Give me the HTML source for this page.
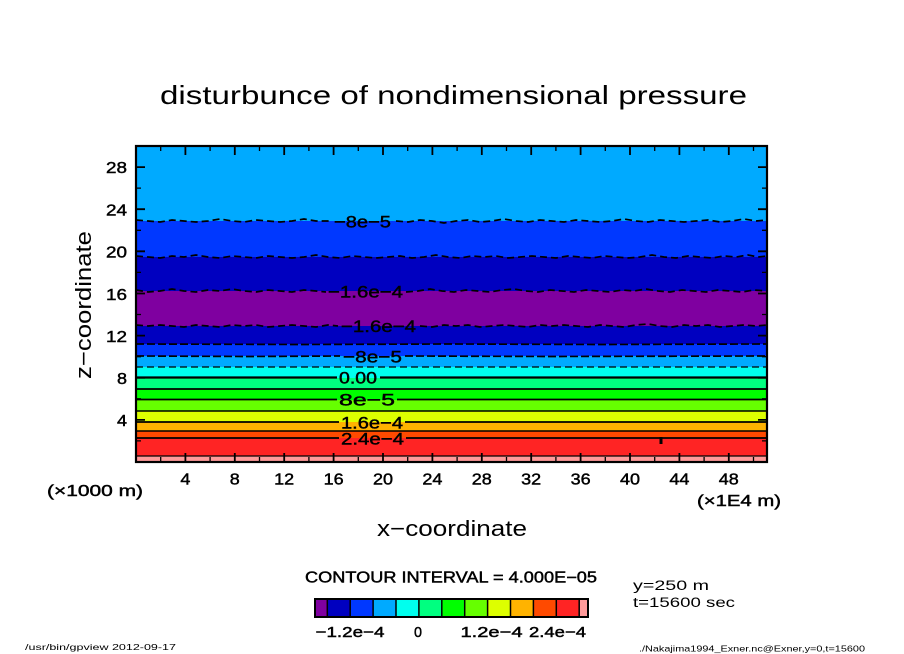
<!DOCTYPE html>
<html>
<head>
<meta charset="utf-8">
<style>
html,body{margin:0;padding:0;background:#fff;}
svg{display:block;}
text{font-family:"Liberation Sans",sans-serif;fill:#000;}
.b{stroke:#000;stroke-width:0.45;}
</style>
</head>
<body>
<svg width="904" height="654" viewBox="0 0 904 654" xmlns="http://www.w3.org/2000/svg">
<rect x="0" y="0" width="904" height="654" fill="#fff"/>

<!-- Title -->
<text x="160" y="104" font-size="26" textLength="587" lengthAdjust="spacingAndGlyphs">disturbunce of nondimensional pressure</text>

<!-- Bands -->
<g shape-rendering="crispEdges">
<rect x="136" y="146" width="631" height="75" fill="#00aaff"/>
<rect x="136" y="221" width="631" height="36" fill="#0038ff"/>
<rect x="136" y="257" width="631" height="34" fill="#0000c0"/>
<rect x="136" y="291" width="631" height="35" fill="#7f00a0"/>
<rect x="136" y="326" width="631" height="18" fill="#0000c0"/>
<rect x="136" y="344" width="631" height="12" fill="#0038ff"/>
<rect x="136" y="356" width="631" height="11" fill="#00aaff"/>
<rect x="136" y="367" width="631" height="11" fill="#00ffee"/>
<rect x="136" y="378" width="631" height="11.5" fill="#00ff80"/>
<rect x="136" y="389.5" width="631" height="10.5" fill="#00ff00"/>
<rect x="136" y="400" width="631" height="11" fill="#66ff00"/>
<rect x="136" y="411" width="631" height="11" fill="#ddff00"/>
<rect x="136" y="422" width="631" height="9" fill="#ffb300"/>
<rect x="136" y="431" width="631" height="7" fill="#ff4a00"/>
<rect x="136" y="438" width="631" height="18" fill="#ff2424"/>
<rect x="136" y="456" width="631" height="6" fill="#ff9a9a"/>
</g>

<!-- Contour lines -->
<g fill="none" stroke="#000" stroke-width="1.7" stroke-linejoin="round">
<path stroke-dasharray="7 4" d="M136,220 L148,221 L160,222 L172,220 L184,221 L196,222 L208,221 L220,219 L232,221 L244,222 L256,220 L268,221 L280,222 L292,221 L304,219 L316,221 L330,221
M396,221 L408,222 L420,220 L432,221 L444,223 L456,221 L468,220 L480,222 L492,221 L504,219 L516,221 L528,222 L540,220 L552,221 L564,222 L576,220 L588,221 L600,222 L612,221 L624,219 L636,221 L648,222 L660,220 L672,221 L684,222 L696,221 L708,220 L720,222 L732,221 L744,219 L756,221 L767,220"/>
<path stroke-dasharray="7 4" d="M136,256 L148,257 L160,258 L172,256 L184,257 L196,255 L208,257 L220,258 L232,256 L244,257 L256,258 L268,256 L280,257 L292,258 L304,257 L316,255 L328,257 L340,258 L352,256 L364,257 L376,258 L388,257 L400,256 L412,258 L424,257 L436,255 L448,257 L460,258 L472,256 L484,257 L496,256 L508,258 L520,257 L532,256 L544,257 L556,258 L568,256 L580,257 L592,258 L604,256 L616,257 L628,258 L640,257 L652,255 L664,257 L676,258 L688,256 L700,257 L712,258 L724,256 L736,257 L748,255 L758,257 L767,256"/>
<path stroke-dasharray="7 4" d="M136,290 L148,292 L160,291 L172,289 L184,291 L196,292 L208,290 L220,291 L232,289 L244,291 L256,292 L268,290 L280,291 L292,292 L304,290 L316,291 L326,292
M406,292 L418,291 L430,289 L442,291 L454,292 L466,290 L478,291 L490,292 L502,290 L514,289 L526,291 L538,292 L550,290 L562,291 L574,292 L586,290 L598,291 L610,292 L622,290 L634,291 L646,289 L658,291 L670,292 L682,290 L694,291 L706,292 L718,290 L730,291 L742,292 L754,290 L767,291"/>
<path stroke-dasharray="7 4" d="M136,325 L148,326 L160,325 L172,326 L184,327 L196,325 L208,326 L220,327 L232,325 L244,326 L256,325 L268,327 L280,326 L292,325 L304,326 L316,327 L328,325 L338,326
M420,326 L432,327 L444,325 L456,326 L468,325 L480,327 L492,326 L504,325 L516,326 L528,327 L540,325 L552,326 L564,325 L576,326 L588,327 L600,325 L612,326 L624,327 L636,325 L648,324 L660,326 L672,327 L684,325 L696,326 L708,325 L720,327 L732,326 L744,325 L756,326 L767,325"/>
<path stroke-dasharray="8 3" d="M136,344 L300,344.5 L450,344 L600,344.5 L767,344"/>
<path stroke-dasharray="8 3" d="M136,356 L250,356.5 L340,356 M405,356 L550,356.5 L767,356"/>
<path stroke-dasharray="7 4" stroke-width="1.3" d="M136,367 L767,367"/>
<path stroke-width="2.3" d="M136,377.5 L337,377.5 M380,377.5 L767,377.5"/>
<path d="M136,389 L767,389"/>
<path d="M136,399.5 L337,399.5 M397,399.5 L767,399.5"/>
<path stroke-width="1.4" d="M136,411 L767,411"/>
<path d="M136,422 L339,422 M405,422 L767,422"/>
<path stroke-width="1.4" d="M136,431 L767,431"/>
<path d="M136,438 L339,438 M406,438 L767,438"/>
<path stroke-width="1.2" d="M136,456 L767,456"/>
</g>
<rect x="659.5" y="437" width="3" height="7" fill="#000"/>

<!-- Contour labels -->
<g font-size="17" class="b">
<text x="334" y="227.5" textLength="57" lengthAdjust="spacingAndGlyphs">−8e−5</text>
<text x="328" y="297.5" textLength="75" lengthAdjust="spacingAndGlyphs">−1.6e−4</text>
<text x="341" y="332" textLength="75" lengthAdjust="spacingAndGlyphs">−1.6e−4</text>
<text x="343" y="362.5" textLength="59" lengthAdjust="spacingAndGlyphs">−8e−5</text>
<text x="339" y="383.5" textLength="38" lengthAdjust="spacingAndGlyphs">0.00</text>
<text x="339" y="405.5" textLength="56" lengthAdjust="spacingAndGlyphs">8e−5</text>
<text x="341" y="428.5" textLength="62" lengthAdjust="spacingAndGlyphs">1.6e−4</text>
<text x="341" y="444.5" textLength="63" lengthAdjust="spacingAndGlyphs">2.4e−4</text>
</g>

<!-- Axes frame -->
<rect x="136" y="146" width="631" height="316" fill="none" stroke="#000" stroke-width="2.2"/>

<!-- Ticks -->
<g stroke="#000" stroke-width="1.8" fill="none">
<path d="M185.4,462 v-9 M234.8,462 v-9 M284.2,462 v-9 M333.6,462 v-9 M383,462 v-9 M432.4,462 v-9 M481.8,462 v-9 M531.2,462 v-9 M580.6,462 v-9 M630,462 v-9 M679.4,462 v-9 M728.8,462 v-9"/>
<path d="M185.4,146 v9 M234.8,146 v9 M284.2,146 v9 M333.6,146 v9 M383,146 v9 M432.4,146 v9 M481.8,146 v9 M531.2,146 v9 M580.6,146 v9 M630,146 v9 M679.4,146 v9 M728.8,146 v9"/>
<path stroke-width="1.3" d="M160.7,462 v-5 M210.1,462 v-5 M259.5,462 v-5 M308.9,462 v-5 M358.3,462 v-5 M407.7,462 v-5 M457.1,462 v-5 M506.5,462 v-5 M555.9,462 v-5 M605.3,462 v-5 M654.7,462 v-5 M704.1,462 v-5 M753.5,462 v-5"/>
<path stroke-width="1.3" d="M160.7,146 v5 M210.1,146 v5 M259.5,146 v5 M308.9,146 v5 M358.3,146 v5 M407.7,146 v5 M457.1,146 v5 M506.5,146 v5 M555.9,146 v5 M605.3,146 v5 M654.7,146 v5 M704.1,146 v5 M753.5,146 v5"/>
<path d="M136,419.9 h9 M136,377.7 h9 M136,335.6 h9 M136,293.5 h9 M136,251.3 h9 M136,209.2 h9 M136,167.1 h9"/>
<path d="M767,419.9 h-9 M767,377.7 h-9 M767,335.6 h-9 M767,293.5 h-9 M767,251.3 h-9 M767,209.2 h-9 M767,167.1 h-9"/>
<path stroke-width="1.3" d="M136,440.9 h5 M136,398.8 h5 M136,356.7 h5 M136,314.5 h5 M136,272.4 h5 M136,230.3 h5 M136,188.1 h5"/>
<path stroke-width="1.3" d="M767,440.9 h-5 M767,398.8 h-5 M767,356.7 h-5 M767,314.5 h-5 M767,272.4 h-5 M767,230.3 h-5 M767,188.1 h-5"/>
</g>

<!-- Y tick labels -->
<g font-size="16" text-anchor="end" class="b">
<text x="127" y="426" textLength="10" lengthAdjust="spacingAndGlyphs">4</text>
<text x="127" y="384" textLength="10" lengthAdjust="spacingAndGlyphs">8</text>
<text x="127" y="342" textLength="21" lengthAdjust="spacingAndGlyphs">12</text>
<text x="127" y="300" textLength="21" lengthAdjust="spacingAndGlyphs">16</text>
<text x="127" y="257.5" textLength="21" lengthAdjust="spacingAndGlyphs">20</text>
<text x="127" y="215.5" textLength="21" lengthAdjust="spacingAndGlyphs">24</text>
<text x="127" y="173" textLength="21" lengthAdjust="spacingAndGlyphs">28</text>
</g>

<!-- X tick labels -->
<g font-size="16" text-anchor="middle" class="b">
<text x="185.4" y="484.5" textLength="10" lengthAdjust="spacingAndGlyphs">4</text>
<text x="234.8" y="484.5" textLength="10" lengthAdjust="spacingAndGlyphs">8</text>
<text x="284.2" y="484.5" textLength="20" lengthAdjust="spacingAndGlyphs">12</text>
<text x="333.6" y="484.5" textLength="20" lengthAdjust="spacingAndGlyphs">16</text>
<text x="383" y="484.5" textLength="20" lengthAdjust="spacingAndGlyphs">20</text>
<text x="432.4" y="484.5" textLength="20" lengthAdjust="spacingAndGlyphs">24</text>
<text x="481.8" y="484.5" textLength="20" lengthAdjust="spacingAndGlyphs">28</text>
<text x="531.2" y="484.5" textLength="20" lengthAdjust="spacingAndGlyphs">32</text>
<text x="580.6" y="484.5" textLength="20" lengthAdjust="spacingAndGlyphs">36</text>
<text x="630" y="484.5" textLength="20" lengthAdjust="spacingAndGlyphs">40</text>
<text x="679.4" y="484.5" textLength="20" lengthAdjust="spacingAndGlyphs">44</text>
<text x="728.8" y="484.5" textLength="20" lengthAdjust="spacingAndGlyphs">48</text>
</g>

<text x="47" y="496" font-size="16" class="b" textLength="96" lengthAdjust="spacingAndGlyphs">(×1000 m)</text>
<text x="697" y="506" font-size="16" class="b" textLength="84" lengthAdjust="spacingAndGlyphs">(×1E4 m)</text>

<!-- Axis titles -->
<text x="377" y="536" font-size="22" textLength="150" lengthAdjust="spacingAndGlyphs">x−coordinate</text>
<text transform="translate(91,379) rotate(-90)" x="0" y="0" font-size="22" textLength="148" lengthAdjust="spacingAndGlyphs">z−coordinate</text>

<!-- Contour interval -->
<text x="305" y="582.5" font-size="15.5" class="b" textLength="292" lengthAdjust="spacingAndGlyphs">CONTOUR INTERVAL = 4.000E−05</text>

<!-- Colorbar -->
<g shape-rendering="crispEdges">
<rect x="315" y="599" width="12.3" height="18" fill="#7f00a0"/>
<rect x="327.3" y="599" width="22.9" height="18" fill="#0000c0"/>
<rect x="350.2" y="599" width="22.9" height="18" fill="#0038ff"/>
<rect x="373.1" y="599" width="22.9" height="18" fill="#00aaff"/>
<rect x="396" y="599" width="22.9" height="18" fill="#00ffee"/>
<rect x="418.9" y="599" width="22.9" height="18" fill="#00ff80"/>
<rect x="441.8" y="599" width="22.9" height="18" fill="#00ff00"/>
<rect x="464.7" y="599" width="22.9" height="18" fill="#66ff00"/>
<rect x="487.6" y="599" width="22.9" height="18" fill="#ddff00"/>
<rect x="510.5" y="599" width="22.9" height="18" fill="#ffb300"/>
<rect x="533.4" y="599" width="22.9" height="18" fill="#ff4a00"/>
<rect x="556.3" y="599" width="22.9" height="18" fill="#ff2424"/>
<rect x="579.2" y="599" width="8.8" height="18" fill="#ff9a9a"/>
</g>
<g stroke="#000" stroke-width="1.5">
<path d="M327.3,599 v18 M350.2,599 v18 M373.1,599 v18 M396,599 v18 M418.9,599 v18 M441.8,599 v18 M464.7,599 v18 M487.6,599 v18 M510.5,599 v18 M533.4,599 v18 M556.3,599 v18 M579.2,599 v18"/>
</g>
<rect x="315" y="599" width="273" height="18" fill="none" stroke="#000" stroke-width="2"/>
<g font-size="15" class="b">
<text x="315.5" y="637" textLength="69" lengthAdjust="spacingAndGlyphs">−1.2e−4</text>
<text x="414" y="637" textLength="8" lengthAdjust="spacingAndGlyphs">0</text>
<text x="460.5" y="637" textLength="62" lengthAdjust="spacingAndGlyphs">1.2e−4</text>
<text x="529" y="637" textLength="57" lengthAdjust="spacingAndGlyphs">2.4e−4</text>
</g>

<!-- Right side info -->
<text x="633" y="590" font-size="13.5" textLength="76" lengthAdjust="spacingAndGlyphs">y=250 m</text>
<text x="633" y="607" font-size="13.5" textLength="102" lengthAdjust="spacingAndGlyphs">t=15600 sec</text>

<!-- Footer -->
<text x="25" y="650" font-size="8.5" textLength="151" lengthAdjust="spacingAndGlyphs">/usr/bin/gpview   2012-09-17</text>
<text x="639" y="651.5" font-size="8.5" textLength="226" lengthAdjust="spacingAndGlyphs">./Nakajima1994_Exner.nc@Exner,y=0,t=15600</text>
</svg>
</body>
</html>
